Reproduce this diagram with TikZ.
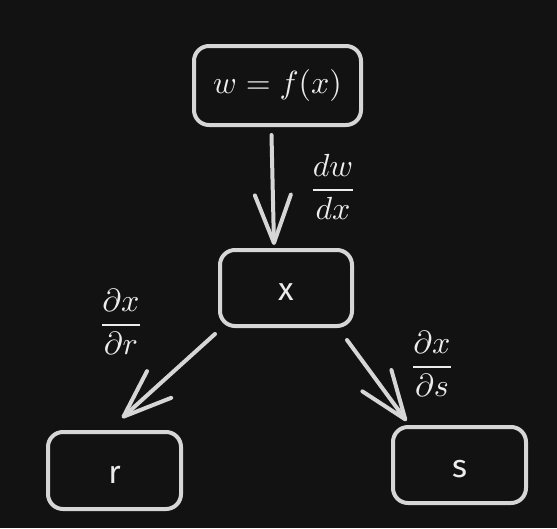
\documentclass[tikz,border=0pt]{standalone}
\usepackage{graphicx}
\usepackage{fontspec}
\setsansfont{Fira Sans}
\usetikzlibrary{arrows.meta}
\definecolor{bgc}{HTML}{121212}
\definecolor{strokec}{HTML}{D6D6D6}
\definecolor{textc}{HTML}{ECECEC}
\newcommand{\largemath}[1]{\scalebox{3.2}{$\displaystyle #1$}}
\newcommand{\lowtext}[1]{\raisebox{-4pt}[\height][0pt]{#1}}
\tikzset{
  box/.style={draw=strokec, line width=4pt, rounded corners=15pt, rectangle, inner sep=0pt, text=textc},
  hand/.style={font=\sffamily\fontsize{32}{38}\selectfont},
  mathlbl/.style={text=textc, inner sep=0pt},
  arr/.style={draw=strokec, line width=4pt, line cap=round,
    -{Straight Barb[length=48pt,width=36pt,round,line width=4pt]}}
}
\begin{document}
\begin{tikzpicture}[x=1pt,y=1pt]
\fill[bgc] (0,0) rectangle (557,-528);
\useasboundingbox (0,0) rectangle (557,-528);
\node[box, minimum width=167pt, minimum height=79pt] (top) at (277.5,-85.5) {\largemath{w=f(x)}};
\node[box, hand, minimum width=132pt, minimum height=76pt] (xb) at (286,-288) {\lowtext{x}};
\node[box, hand, minimum width=133pt, minimum height=77pt] (rb) at (114.5,-470.5) {\lowtext{r}};
\node[box, hand, minimum width=133pt, minimum height=76pt] (sb) at (459.5,-465) {\lowtext{s}};
\node[mathlbl] (l1) at (333,-187) {\largemath{\frac{dw}{dx}}};
\node[mathlbl] (l2) at (121,-322) {\largemath{\frac{\partial x}{\partial r}}};
\node[mathlbl] (l3) at (432,-364) {\largemath{\frac{\partial x}{\partial s}}};
\draw[arr] ([xshift=-6pt,yshift=-8pt]top.south) -- ([xshift=-12pt,yshift=3pt]xb.north);
\draw[arr] ([xshift=-3pt,yshift=-6pt]xb.south west) -- ([xshift=7.5pt,yshift=12pt]rb.north);
\draw[arr] ([xshift=-7pt,yshift=-12pt]xb.south east) -- ([xshift=15.5pt,yshift=4pt]sb.north west);
\end{tikzpicture}
\end{document}
